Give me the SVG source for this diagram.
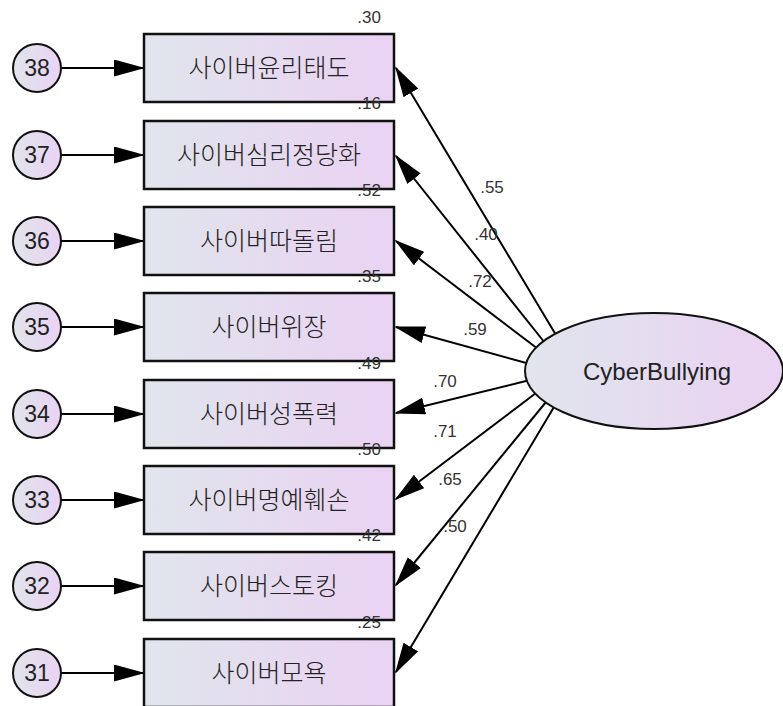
<svg xmlns="http://www.w3.org/2000/svg" width="783" height="706" viewBox="0 0 783 706">
<defs>
<linearGradient id="g" x1="0" y1="0" x2="1" y2="0">
<stop offset="0" stop-color="#e0e5ec"/>
<stop offset="1" stop-color="#ead2f3"/>
</linearGradient>
<marker id="ah" markerUnits="userSpaceOnUse" markerWidth="31" markerHeight="18" refX="29" refY="8.5" orient="auto">
<path d="M0,0 L31,8.5 L0,17 z" fill="#000"/>
</marker>
<style>
.box{fill:url(#g);stroke:#111;stroke-width:2.5}
.err{fill:url(#g);stroke:#111;stroke-width:2}
.lat{fill:url(#g);stroke:#111;stroke-width:2}
.c{stroke:#000;stroke-width:2;fill:none;marker-end:url(#ah)}
.kt{font-family:"Noto Sans CJK KR",sans-serif;font-size:25px;font-weight:300;fill:#222;text-anchor:middle}
.nt{font-family:"Liberation Sans",Arial,sans-serif;font-size:23px;fill:#222;text-anchor:middle}
.lt{font-family:"Liberation Sans",Arial,sans-serif;font-size:17px;fill:#333;text-anchor:middle}
.rt{font-family:"Liberation Sans",Arial,sans-serif;font-size:17px;fill:#333;text-anchor:end}
</style>
</defs>
<rect width="783" height="706" fill="#fff"/>
<g id="connectors">
<line class="c" x1="61" y1="68" x2="143" y2="68"/>
<line class="c" x1="61" y1="155" x2="143" y2="155"/>
<line class="c" x1="61" y1="241" x2="143" y2="241"/>
<line class="c" x1="61" y1="327" x2="143" y2="327"/>
<line class="c" x1="61" y1="414" x2="143" y2="414"/>
<line class="c" x1="61" y1="500" x2="143" y2="500"/>
<line class="c" x1="61" y1="586" x2="143" y2="586"/>
<line class="c" x1="61" y1="673" x2="143" y2="673"/>
<line class="c" x1="556" y1="335" x2="396" y2="68"/>
<line class="c" x1="545" y1="343" x2="396" y2="156"/>
<line class="c" x1="538" y1="349" x2="396" y2="241"/>
<line class="c" x1="530" y1="364" x2="396" y2="327"/>
<line class="c" x1="530" y1="380" x2="396" y2="413"/>
<line class="c" x1="536" y1="393" x2="396" y2="499"/>
<line class="c" x1="546" y1="402" x2="396" y2="585"/>
<line class="c" x1="554" y1="407" x2="396" y2="672"/>
</g>
<g id="loadings">
<text class="lt" x="492" y="193">.55</text>
<text class="lt" x="486" y="240">.40</text>
<text class="lt" x="480" y="287">.72</text>
<text class="lt" x="475" y="335">.59</text>
<text class="lt" x="445" y="387">.70</text>
<text class="lt" x="445" y="437">.71</text>
<text class="lt" x="450" y="485">.65</text>
<text class="lt" x="455" y="532">.50</text>
</g>
<g id="CyberBullying">
<ellipse class="lat" cx="654" cy="371" rx="129" ry="58"/>
<text x="657" y="380" font-family="Liberation Sans, Arial, sans-serif" font-size="24" fill="#222" text-anchor="middle">CyberBullying</text>
</g>
<g id="v8">
<rect class="box" x="144" y="34" width="250" height="68"/>
<text class="kt" x="269" y="77">사이버윤리태도</text>
<text class="rt" x="381" y="23">.30</text>
</g>
<g id="v7">
<rect class="box" x="144" y="121" width="250" height="68"/>
<text class="kt" x="269" y="164">사이버심리정당화</text>
<text class="rt" x="381" y="109">.16</text>
</g>
<g id="v6">
<rect class="box" x="144" y="207" width="250" height="68"/>
<text class="kt" x="269" y="250">사이버따돌림</text>
<text class="rt" x="381" y="196">.52</text>
</g>
<g id="v5">
<rect class="box" x="144" y="293" width="250" height="68"/>
<text class="kt" x="269" y="336">사이버위장</text>
<text class="rt" x="381" y="282">.35</text>
</g>
<g id="v4">
<rect class="box" x="144" y="380" width="250" height="68"/>
<text class="kt" x="269" y="423">사이버성폭력</text>
<text class="rt" x="381" y="369">.49</text>
</g>
<g id="v3">
<rect class="box" x="144" y="466" width="250" height="68"/>
<text class="kt" x="269" y="509">사이버명예훼손</text>
<text class="rt" x="381" y="455">.50</text>
</g>
<g id="v2">
<rect class="box" x="144" y="552" width="250" height="68"/>
<text class="kt" x="269" y="595">사이버스토킹</text>
<text class="rt" x="381" y="541">.42</text>
</g>
<g id="v1">
<rect class="box" x="144" y="639" width="250" height="68"/>
<text class="kt" x="269" y="682">사이버모욕</text>
<text class="rt" x="381" y="628">.25</text>
</g>
<g id="e38"><circle class="err" cx="37" cy="68" r="24"/><text class="nt" x="37" y="76">38</text></g>
<g id="e37"><circle class="err" cx="37" cy="155" r="24"/><text class="nt" x="37" y="163">37</text></g>
<g id="e36"><circle class="err" cx="37" cy="241" r="24"/><text class="nt" x="37" y="249">36</text></g>
<g id="e35"><circle class="err" cx="37" cy="327" r="24"/><text class="nt" x="37" y="335">35</text></g>
<g id="e34"><circle class="err" cx="37" cy="414" r="24"/><text class="nt" x="37" y="422">34</text></g>
<g id="e33"><circle class="err" cx="37" cy="500" r="24"/><text class="nt" x="37" y="508">33</text></g>
<g id="e32"><circle class="err" cx="37" cy="586" r="24"/><text class="nt" x="37" y="594">32</text></g>
<g id="e31"><circle class="err" cx="37" cy="673" r="24"/><text class="nt" x="37" y="681">31</text></g>
</svg>
